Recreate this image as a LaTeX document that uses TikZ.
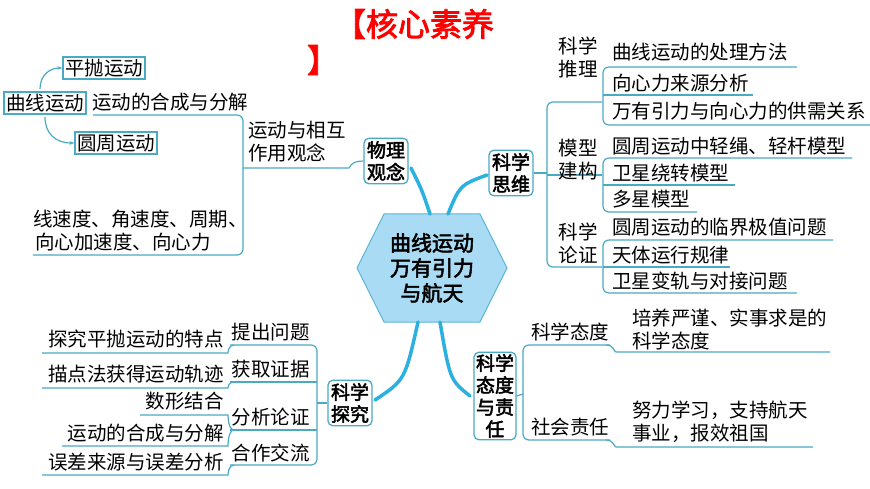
\documentclass[tikz,border=0pt]{standalone}
\usepackage{fontspec}
\setmainfont{Noto Sans CJK SC}
\newfontfamily\cjkb[FakeBold=2.5]{Noto Sans CJK SC}
\usetikzlibrary{shapes.geometric,arrows.meta}
\definecolor{ln}{HTML}{4AAAC4}
\definecolor{hexf}{HTML}{A9DCF4}
\definecolor{hexd}{HTML}{5BB6D6}
\definecolor{br}{HTML}{2BB0E0}
\tikzset{
 t/.style={font=\fontsize{19.5}{23}\selectfont,inner sep=0pt,anchor=west,align=left},
 tr/.style={t,anchor=east,align=right},
 box/.style={draw=ln,line width=1.3pt,font=\fontsize{19.5}{23}\selectfont,inner sep=2pt,align=center},
 cat/.style={box,rounded corners=5pt,font=\cjkb\fontsize{19}{22}\selectfont,inner sep=3pt},
 ul/.style={draw=ln,line width=1.2pt,rounded corners=6pt},
 thick br/.style={draw=br,line width=3.5pt,line cap=round},
}
\begin{document}
\begin{tikzpicture}[x=1pt,y=-1pt]
\fill[white] (0,0) rectangle (870,489);
\useasboundingbox (0,0) rectangle (870,489);
% title
\node[font=\cjkb\fontsize{32}{35}\selectfont,text=red,inner sep=0] (title) at (414,24) {【核心素养};
\node[font=\cjkb\fontsize{32}{35}\selectfont,text=red,inner sep=0] (title2) at (323,60) {】};
% center
\path[fill=hexf,draw=hexd,line width=1pt] (357,268)--(384,214)--(480,214)--(507,268)--(480,322)--(384,322)--cycle;
\node[font=\cjkb\fontsize{21}{25}\selectfont,align=center,inner sep=0] (ctext) at (432,268) {曲线运动\\万有引力\\与航天};
% category boxes
\node[cat] (wl) at (386,161) {物理\\观念};
\node[cat] (sw) at (511,173) {科学\\思维};
\node[cat] (tj) at (350,403) {科学\\探究};
\node[cat,inner sep=2pt] (td) at (495,396) {科学\\态度\\与责\\任};
% thick branches
\draw[thick br] (430,214) .. controls (422,190) .. (411,168);
\draw[thick br] (448,214) .. controls (460,185) .. (487,175);
\draw[thick br] (418,322) .. controls (405,380) .. (375,400);
\draw[thick br] (440,322) .. controls (450,380) .. (470,396);
% ---- left top
\node[box] (qx) at (45,103) {曲线运动};
\node[box] (pp) at (104,68) {平抛运动};
\node[box] (yz) at (116,143) {圆周运动};
\draw[ln,line width=1.2pt,-{Stealth[length=5pt]}] (40,89) .. controls (40,75) and (50,68) .. (pp.west);
\draw[ln,line width=1.2pt,-{Stealth[length=5pt]}] (45,117) .. controls (45,133) and (55,143) .. (yz.west);
\node[t] (hc) at (92,102) {运动的合成与分解};
\node[t] (xs) at (33,219) {线速度、角速度、周期、};
\node[t] (xx) at (35,242) {向心加速度、向心力};
\node[t] (yd) at (248,142) {运动与相互\\作用观念};
\draw[ul] (93,115) -- (243,115) -- (243,255) -- (33,255);
\draw[ul] (243,168) -- (343,168) .. controls (350,168) and (350,161) .. (wl.west);
% ---- right top
\draw[ul] (sw.east) -- (547,173);
\draw[ul] (602,102) -- (547,102) -- (547,267) -- (602,267);
\draw[ul] (547,175) -- (602,175);
\node[t,align=center,anchor=center] (tl) at (578,58) {科学\\推理};
\node[t,align=center,anchor=center] (jg) at (578,160) {模型\\建构};
\node[t,align=center,anchor=center] (lz) at (578,243) {科学\\论证};
\draw[ul] (797,67) -- (603,67) -- (603,125) -- (870,125);
\draw[ul] (603,95) -- (753,95);
\node[t] (a1) at (612,52) {曲线运动的处理方法};
\node[t] (a2) at (612,83) {向心力来源分析};
\node[t] (a3) at (612,111) {万有引力与向心力的供需关系};
\draw[ul] (852,158) -- (603,158) -- (603,212) -- (697,212);
\draw[ul] (603,185) -- (735,185);
\node[t] (b1) at (612,146) {圆周运动中轻绳、轻杆模型};
\node[t] (b2) at (612,173) {卫星绕转模型};
\node[t] (b3) at (612,199) {多星模型};
\draw[ul] (833,240) -- (603,240) -- (603,293) -- (797,293);
\draw[ul] (603,267) -- (730,267);
\node[t] (c1) at (612,227) {圆周运动的临界极值问题};
\node[t] (c2) at (612,255) {天体运行规律};
\node[t] (c3) at (612,281) {卫星变轨与对接问题};
% ---- bottom left
\draw[ul] (tj.west) -- (317,403);
\draw[ul] (230,345) -- (317,345) -- (317,465) -- (230,465);
\draw[ul] (230,382) -- (317,382);
\draw[ul] (230,430) -- (317,430);
\node[tr] (q1) at (310,332) {提出问题};
\node[tr] (q2) at (310,369) {获取证据};
\node[tr] (q3) at (310,417) {分析论证};
\node[tr] (q4) at (310,453) {合作交流};
\draw[ul] (42,353) -- (222,353) .. controls (228,353) and (228,345) .. (234,345);
\draw[ul] (42,388) -- (222,388) .. controls (228,388) and (228,382) .. (234,382);
\draw[ul] (140,415) -- (222,415) .. controls (228,415) and (228,430) .. (234,430);
\draw[ul] (62,446) -- (222,446) .. controls (228,446) and (228,430) .. (234,430);
\draw[ul] (42,475) -- (222,475) .. controls (228,475) and (228,465) .. (234,465);
\node[tr] (p1) at (224,339) {探究平抛运动的特点};
\node[tr] (p2) at (224,374) {描点法获得运动轨迹};
\node[tr] (p3) at (224,401) {数形结合};
\node[tr] (p4) at (224,433) {运动的合成与分解};
\node[tr] (p5) at (224,462) {误差来源与误差分析};
% ---- bottom right
\draw[ul] (td.east) -- (523,394);
\draw[ul] (610,345) -- (523,345) -- (523,440) -- (610,440);
\draw[ul] (606,345) .. controls (614,345) and (614,352) .. (622,352) -- (830,352);
\draw[ul] (606,440) .. controls (614,440) and (614,447) .. (622,447) -- (813,447);
\node[t] (s1) at (531,332) {科学态度};
\node[t] (s2) at (531,427) {社会责任};
\node[t] (r1) at (632,330) {培养严谨、实事求是的\\科学态度};
\node[t] (r2) at (632,422) {努力学习，支持航天\\事业，报效祖国};
\end{tikzpicture}
\end{document}
